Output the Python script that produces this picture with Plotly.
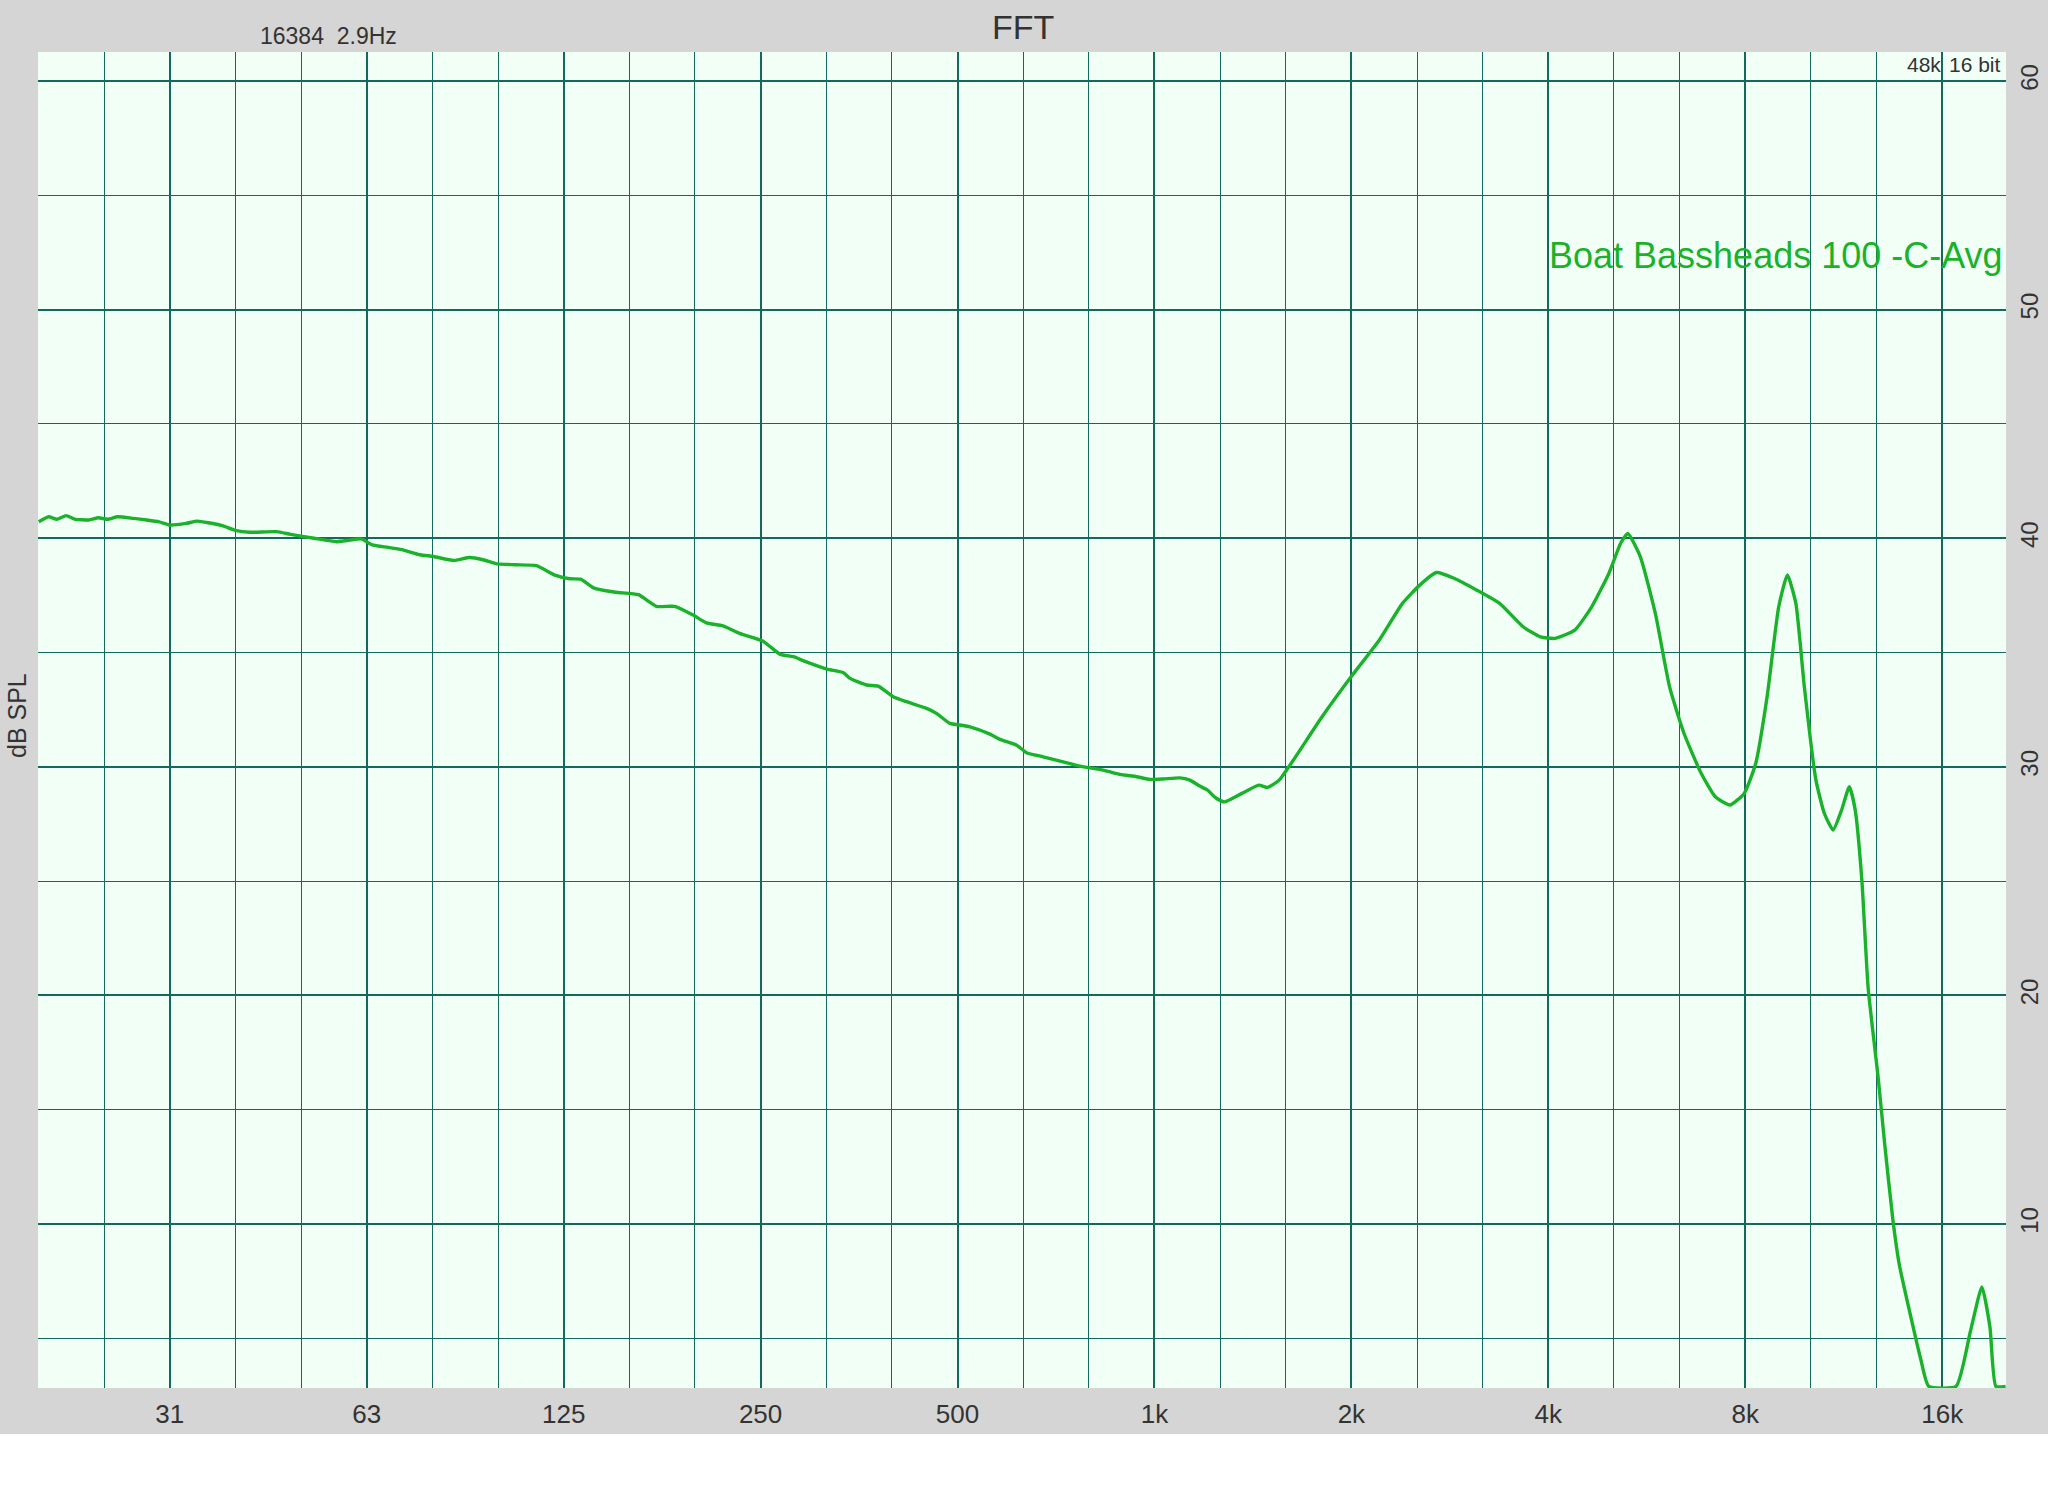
import plotly.graph_objects as go
import numpy as np

# ---- data ----
freq_hz = [19.7, 20.4, 21.0, 21.7, 22.35, 23.5, 24.3, 25.1, 26.0, 27.5, 28.8, 30.1,
           31.3, 33.1, 34.4, 35.8, 37.6, 39.5, 41.4, 45.5, 47.8, 51.9, 56.2, 58.9,
           61.3, 63.7, 67.4, 70.7, 75.4, 79.1, 84.9, 89.8, 94.1, 98.9, 105.5, 113.6,
           120.9, 127.7, 132.7, 139.1, 150.1, 162.6, 173.2, 184.6, 197.1, 206.5,
           219.0, 232.2, 252.2, 267.8, 280.6, 290.9, 315.8, 334.6, 342.5, 363.0,
           378.2, 398.7, 417.9, 448.4, 464.3, 486.7, 504.2, 522.3, 560.4, 580.5,
           615.6, 637.4, 675.7, 725.3, 769.1, 834.8, 885.2, 939, 984, 1031, 1093,
           1133, 1173, 1204, 1240, 1279, 1360, 1444, 1489, 1551, 1631, 1805, 1998,
           2207, 2394, 2544, 2700, 2870, 3110, 3370, 3660, 3890, 4090, 4390, 4660,
           4950, 5160, 5290, 5530, 5830, 6130, 6450, 6850, 7200, 7580, 7970, 8300,
           8640, 9000, 9280, 9560, 9850, 10260, 10570, 10900, 11230, 11540, 11780,
           12060, 12330, 12770, 13070, 13450, 13760, 14240, 14830, 15260, 16800,
           17670, 18400, 18930, 19330, 20000]
spl_db = [40.72, 40.94, 40.83, 40.99, 40.84, 40.80, 40.90, 40.83, 40.94, 40.87, 40.80, 40.72,
          40.58, 40.65, 40.75, 40.68, 40.55, 40.33, 40.26, 40.29, 40.17, 40.00, 39.85, 39.92,
          39.97, 39.71, 39.60, 39.50, 39.28, 39.20, 39.03, 39.16, 39.06, 38.88, 38.84, 38.80,
          38.40, 38.23, 38.21, 37.82, 37.64, 37.53, 37.02, 37.02, 36.64, 36.30,
          36.17, 35.84, 35.50, 34.92, 34.82, 34.64, 34.28, 34.12, 33.87, 33.58,
          33.53, 33.07, 32.85, 32.56, 32.34, 31.90, 31.83, 31.75, 31.43, 31.20,
          30.95, 30.62, 30.44, 30.22, 30.03, 29.86, 29.67, 29.57, 29.45, 29.47, 29.52,
          29.42, 29.16, 28.99, 28.65, 28.47, 28.84, 29.20, 29.10, 29.42, 30.30, 32.20, 33.94,
          35.55, 37.15, 37.95, 38.50, 38.25, 37.73, 37.15, 36.13, 35.69, 35.62, 35.98, 37.00,
          38.46, 39.78, 40.21, 39.19, 36.71, 33.50, 31.46, 29.72, 28.69, 28.33, 28.84, 30.15,
          33.07, 37.00, 38.39, 37.15, 33.50, 29.42, 27.96, 27.24, 28.11, 29.13, 28.12,
          25.05, 20.33, 16.43, 13.50, 10.20, 8.22, 6.28, 4.12, 2.90, 2.90,
          5.30, 7.25, 5.50, 2.90, 2.90]

octave_ticks = [31.25, 62.5, 125, 250, 500, 1000, 2000, 4000, 8000, 16000]
octave_labels = ["31", "63", "125", "250", "500", "1k", "2k", "4k", "8k", "16k"]
db_ticks = [10, 20, 30, 40, 50, 60]
db_minor = [5, 15, 25, 35, 45, 55]
third_octave = [octave_ticks[0] / 2 ** (1 / 3)] + [f * 2 ** (i / 3) for f in octave_ticks for i in (1, 2)]

GRID = "#13695b"
GREEN = "#1bb22b"
TXT = "#333333"
FONT = "Liberation Sans, Arial, sans-serif"

fig = go.Figure()
fig.add_trace(go.Scatter(x=freq_hz, y=spl_db, mode="lines",
                         line=dict(color=GREEN, width=3.4, shape="spline", smoothing=0.5),
                         hoverinfo="skip"))

W, H = 2048, 1496
L, R, T, B = 38, 42, 52, 108
pw, ph = W - L - R, H - T - B

def px(xp):
    return (xp - L) / pw

def py(yp):
    return (H - B - yp) / ph

fig.update_layout(
    width=W, height=H,
    margin=dict(l=L, r=R, t=T, b=B, pad=0, autoexpand=False),
    paper_bgcolor="#d5d5d5",
    plot_bgcolor="#f2fff7",
    showlegend=False,
    font=dict(family=FONT, color=TXT),
    xaxis=dict(type="log", range=[np.log10(19.65), np.log10(20030)],
               tickvals=octave_ticks, ticktext=octave_labels,
               showgrid=True, gridcolor=GRID, gridwidth=2.4,
               minor=dict(tickvals=third_octave, showgrid=True, gridcolor=GRID, gridwidth=1.4, ticks=""),
               ticks="", ticklabelstandoff=8, automargin=False,
               tickfont=dict(size=26, color=TXT, family=FONT),
               zeroline=False, showline=False, fixedrange=True),
    yaxis=dict(range=[2.83, 61.27], side="right",
               tickvals=db_ticks, ticktext=[str(v) for v in db_ticks],
               showgrid=True, gridcolor=GRID, gridwidth=2.4,
               minor=dict(tickvals=db_minor, showgrid=True, gridcolor=GRID, gridwidth=1.4, ticks=""),
               ticks="", tickangle=-90, ticklabelstandoff=7, automargin=False,
               tickfont=dict(size=24, color=TXT, family=FONT),
               zeroline=False, showline=False, fixedrange=True),
    shapes=[dict(type="rect", xref="paper", yref="paper",
                 x0=-0.05, x1=1.05, y0=py(1500), y1=py(1434),
                 fillcolor="white", line=dict(width=0), layer="below")],
)

ann = [
    dict(text="FFT", x=px(1023), y=py(27), size=34, xanchor="center"),
    dict(text="16384\u00a0 2.9Hz", x=px(259), y=py(36), size=23, xanchor="left"),
    dict(text="48k", x=px(1942), y=py(64), size=21, xanchor="right"),
    dict(text="16 bit", x=px(1948), y=py(64), size=21, xanchor="left"),
]
for a in ann:
    fig.add_annotation(text=a["text"], x=a["x"], y=a["y"], xref="paper", yref="paper",
                       xanchor=a["xanchor"], yanchor="middle", showarrow=False,
                       font=dict(size=a["size"], color=TXT, family=FONT), borderpad=0)

fig.add_annotation(text="Boat Bassheads 100 -C-Avg", x=px(2004), y=py(255), xref="paper", yref="paper",
                   xanchor="right", yanchor="middle", showarrow=False, borderpad=0,
                   font=dict(size=36, color=GREEN, family=FONT))
fig.add_annotation(text="dB SPL", x=px(17), y=py(716), xref="paper", yref="paper",
                   xanchor="center", yanchor="middle", showarrow=False, textangle=-90, borderpad=0,
                   font=dict(size=25, color=TXT, family=FONT))

fig.write_html("out.html", config={"displayModeBar": False},
               post_script="document.body.style.margin='0';document.body.style.overflow='hidden';")
